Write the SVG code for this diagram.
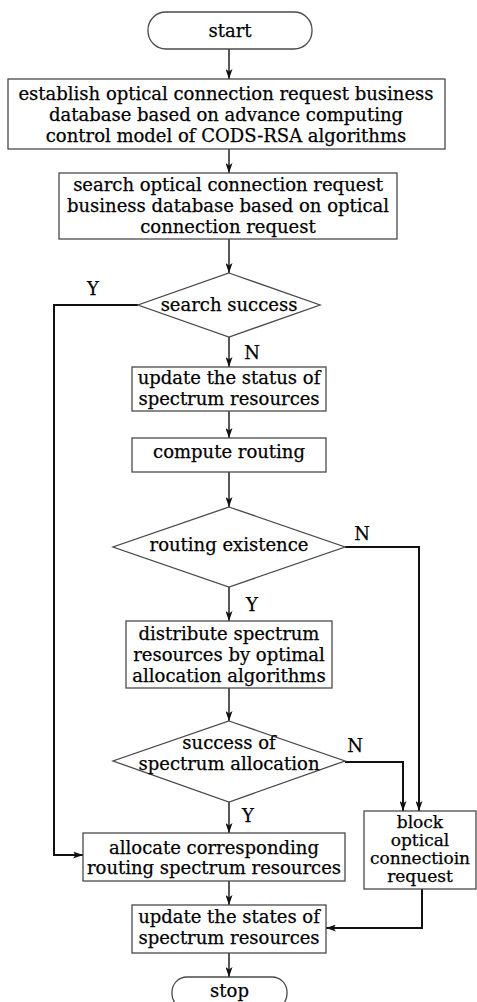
<svg xmlns="http://www.w3.org/2000/svg" width="477" height="1002" viewBox="0 0 477 1002">
  <defs>
    <style>
      .box { fill: #ffffff; stroke: #4a4a4a; stroke-width: 1.3; }
      .t { font-family: "DejaVu Serif", "Liberation Serif", serif; font-size: 18px; fill: #000; stroke: #000; stroke-width: 0.25; text-anchor: middle; }
      .ts { font-size: 17px; }
      .lbl { font-family: "DejaVu Serif", "Liberation Serif", serif; font-size: 18px; fill: #000; stroke: #000; stroke-width: 0.25; text-anchor: middle; }
      .flow { fill: none; stroke: #111; stroke-width: 1.4; marker-end: url(#arrow); }
      .route { fill: none; stroke: #111; stroke-width: 2; marker-end: url(#arrow); }
    </style>
    <marker id="arrow" viewBox="0 0 10 7" refX="10" refY="3.5" markerWidth="10" markerHeight="7" markerUnits="userSpaceOnUse" orient="auto">
      <path d="M0,0 L10,3.5 L0,7 L2.5,3.5 z" fill="#111"/>
    </marker>
  </defs>

  <rect width="477" height="1002" fill="#ffffff"/>

  <!-- connectors -->
  <g id="connectors">
    <path class="flow" d="M229,49 V79"/>
    <path class="flow" d="M229,149 V173"/>
    <path class="flow" d="M229,239 V273"/>
    <path class="flow" d="M229,337 V367"/>
    <path class="flow" d="M229,411 V438"/>
    <path class="flow" d="M229,472 V507"/>
    <path class="flow" d="M229,587 V621"/>
    <path class="flow" d="M229,688 V721"/>
    <path class="flow" d="M229,802 V833"/>
    <path class="flow" d="M229,881 V905"/>
    <path class="flow" d="M229,953 V977"/>
    <path class="route" d="M138,305 H54 V855 H83"/>
    <path class="route" d="M345,547 H419 V811"/>
    <path class="route" d="M345,762 H403 V811"/>
    <path class="route" d="M422,889 V928 H326"/>
    <text class="lbl" x="93" y="295">Y</text>
    <text class="lbl" x="252" y="359">N</text>
    <text class="lbl" x="362" y="540">N</text>
    <text class="lbl" x="252" y="611">Y</text>
    <text class="lbl" x="355" y="752">N</text>
    <text class="lbl" x="248" y="822">Y</text>
  </g>

  <g id="start">
    <rect class="box" x="148" y="12" width="164" height="37" rx="18" ry="18"/>
    <text class="t" x="230" y="37">start</text>
  </g>

  <g id="establish-database">
    <rect class="box" x="8" y="79" width="437" height="70"/>
    <text class="t" x="226" y="100">establish optical connection request business</text>
    <text class="t" x="226" y="121">database based on advance computing</text>
    <text class="t" x="226" y="142">control model of CODS-RSA algorithms</text>
  </g>

  <g id="search-database">
    <rect class="box" x="59" y="173" width="338" height="66"/>
    <text class="t" x="228" y="191">search optical connection request</text>
    <text class="t" x="228" y="212">business database based on optical</text>
    <text class="t" x="228" y="233">connection request</text>
  </g>

  <g id="search-success">
    <polygon class="box" points="229,273 320,305 229,337 138,305"/>
    <text class="t" x="229" y="311">search success</text>
  </g>

  <g id="update-status">
    <rect class="box" x="132" y="367" width="194" height="44"/>
    <text class="t" x="229" y="384">update the status of</text>
    <text class="t" x="229" y="405">spectrum resources</text>
  </g>

  <g id="compute-routing">
    <rect class="box" x="132" y="438" width="194" height="34"/>
    <text class="t" x="229" y="458">compute routing</text>
  </g>

  <g id="routing-existence">
    <polygon class="box" points="229,507 345,547 229,587 113,547"/>
    <text class="t" x="229" y="551">routing existence</text>
  </g>

  <g id="distribute-spectrum">
    <rect class="box" x="126" y="621" width="206" height="67"/>
    <text class="t" x="229" y="640">distribute spectrum</text>
    <text class="t" x="229" y="661">resources by optimal</text>
    <text class="t" x="229" y="682">allocation algorithms</text>
  </g>

  <g id="spectrum-allocation">
    <polygon class="box" points="229,721 345,761 229,802 113,761"/>
    <text class="t" x="229" y="749">success of</text>
    <text class="t" x="229" y="770">spectrum allocation</text>
  </g>

  <g id="allocate-resources">
    <rect class="box" x="83" y="833" width="262" height="48"/>
    <text class="t" x="214" y="854">allocate corresponding</text>
    <text class="t" x="214" y="874">routing spectrum resources</text>
  </g>

  <g id="block-request">
    <rect class="box" x="364" y="811" width="112" height="78"/>
    <text class="t ts" x="420" y="828">block</text>
    <text class="t ts" x="420" y="846">optical</text>
    <text class="t ts" x="420" y="864">connectioin</text>
    <text class="t ts" x="420" y="882">request</text>
  </g>

  <g id="update-states">
    <rect class="box" x="132" y="905" width="194" height="48"/>
    <text class="t" x="229" y="923">update the states of</text>
    <text class="t" x="229" y="944">spectrum resources</text>
  </g>

  <g id="stop">
    <rect class="box" x="172" y="977" width="115" height="32" rx="15" ry="15"/>
    <text class="t" x="229.5" y="997">stop</text>
  </g>
</svg>
